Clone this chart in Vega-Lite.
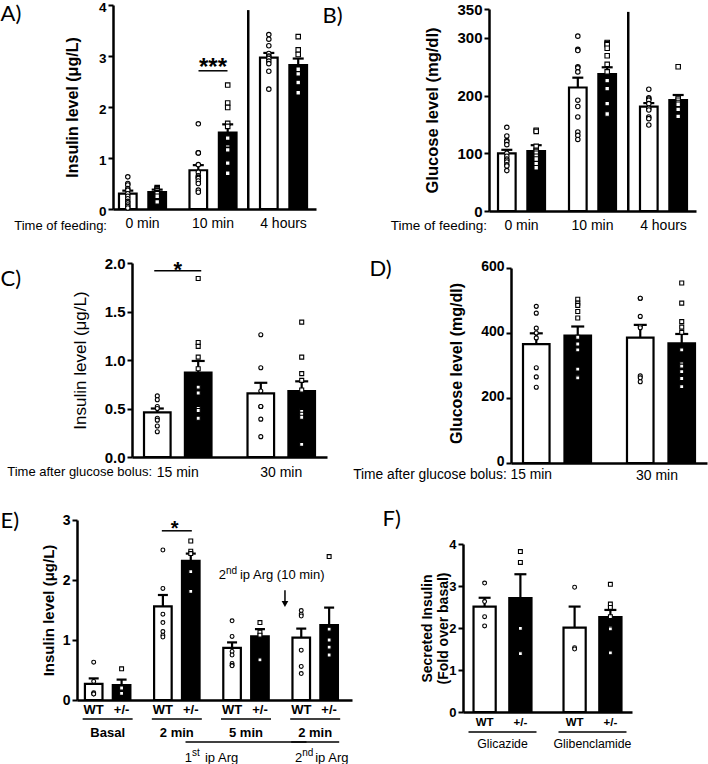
{
"$schema":"https://vega.github.io/schema/vega-lite/v6.json",
"width":708,"height":764,"autosize":{"type":"none"},"padding":0,"background":"white",
"config":{
 "view":{"stroke":null},
 "font":"Liberation Sans",
 "text":{"font":"Liberation Sans","color":"black"},
 "axis":{"domainColor":"black","domainWidth":2.5,"tickColor":"black","tickWidth":2,"tickSize":5,"labelColor":"black","titleColor":"black","labelFont":"Liberation Sans","titleFont":"Liberation Sans","labelFontWeight":"bold","titleFontWeight":"bold","grid":false,"labelPadding":2}
},
"datasets":{
 "one":[{}],
 "A_bars":[
  {"time":"0 min","genotype":"WT","mean":0.30,"upper":0.36},
  {"time":"0 min","genotype":"+/-","mean":0.33,"upper":0.38},
  {"time":"10 min","genotype":"WT","mean":0.76,"upper":0.86},
  {"time":"10 min","genotype":"+/-","mean":1.50,"upper":1.66},
  {"time":"4 hours","genotype":"WT","mean":2.97,"upper":3.06},
  {"time":"4 hours","genotype":"+/-","mean":2.82,"upper":2.95}],
 "A_pts":[
  {"time":"0 min","genotype":"WT","value":0.63},{"time":"0 min","genotype":"WT","value":0.50},{"time":"0 min","genotype":"WT","value":0.47},{"time":"0 min","genotype":"WT","value":0.40},{"time":"0 min","genotype":"WT","value":0.37},{"time":"0 min","genotype":"WT","value":0.30},{"time":"0 min","genotype":"WT","value":0.25},{"time":"0 min","genotype":"WT","value":0.20},{"time":"0 min","genotype":"WT","value":0.15},{"time":"0 min","genotype":"WT","value":0.12},{"time":"0 min","genotype":"WT","value":0.08},{"time":"0 min","genotype":"WT","value":0.05},{"time":"0 min","genotype":"WT","value":0.02},
  {"time":"0 min","genotype":"+/-","value":0.42},{"time":"0 min","genotype":"+/-","value":0.40},{"time":"0 min","genotype":"+/-","value":0.37},{"time":"0 min","genotype":"+/-","value":0.36},{"time":"0 min","genotype":"+/-","value":0.35},{"time":"0 min","genotype":"+/-","value":0.32},{"time":"0 min","genotype":"+/-","value":0.30},{"time":"0 min","genotype":"+/-","value":0.25},{"time":"0 min","genotype":"+/-","value":0.14},
  {"time":"10 min","genotype":"WT","value":1.67},{"time":"10 min","genotype":"WT","value":1.10},{"time":"10 min","genotype":"WT","value":1.10},{"time":"10 min","genotype":"WT","value":0.87},{"time":"10 min","genotype":"WT","value":0.72},{"time":"10 min","genotype":"WT","value":0.65},{"time":"10 min","genotype":"WT","value":0.62},{"time":"10 min","genotype":"WT","value":0.60},{"time":"10 min","genotype":"WT","value":0.55},{"time":"10 min","genotype":"WT","value":0.50},{"time":"10 min","genotype":"WT","value":0.37},{"time":"10 min","genotype":"WT","value":0.33},
  {"time":"10 min","genotype":"+/-","value":2.43},{"time":"10 min","genotype":"+/-","value":2.08},{"time":"10 min","genotype":"+/-","value":1.99},{"time":"10 min","genotype":"+/-","value":1.68},{"time":"10 min","genotype":"+/-","value":1.62},{"time":"10 min","genotype":"+/-","value":1.39},{"time":"10 min","genotype":"+/-","value":1.22},{"time":"10 min","genotype":"+/-","value":1.19},{"time":"10 min","genotype":"+/-","value":1.16},{"time":"10 min","genotype":"+/-","value":0.90},{"time":"10 min","genotype":"+/-","value":0.70},
  {"time":"4 hours","genotype":"WT","value":3.42},{"time":"4 hours","genotype":"WT","value":3.33},{"time":"4 hours","genotype":"WT","value":3.20},{"time":"4 hours","genotype":"WT","value":3.05},{"time":"4 hours","genotype":"WT","value":3.00},{"time":"4 hours","genotype":"WT","value":2.98},{"time":"4 hours","genotype":"WT","value":2.95},{"time":"4 hours","genotype":"WT","value":2.90},{"time":"4 hours","genotype":"WT","value":2.85},{"time":"4 hours","genotype":"WT","value":2.70},{"time":"4 hours","genotype":"WT","value":2.35},
  {"time":"4 hours","genotype":"+/-","value":3.38},{"time":"4 hours","genotype":"+/-","value":3.12},{"time":"4 hours","genotype":"+/-","value":3.03},{"time":"4 hours","genotype":"+/-","value":2.74},{"time":"4 hours","genotype":"+/-","value":2.65},{"time":"4 hours","genotype":"+/-","value":2.48},{"time":"4 hours","genotype":"+/-","value":2.28}],
 "B_bars":[
  {"time":"0 min","genotype":"WT","mean":100,"upper":106},
  {"time":"0 min","genotype":"+/-","mean":104,"upper":114},
  {"time":"10 min","genotype":"WT","mean":214,"upper":231},
  {"time":"10 min","genotype":"+/-","mean":237,"upper":249},
  {"time":"4 hours","genotype":"WT","mean":181,"upper":187},
  {"time":"4 hours","genotype":"+/-","mean":192,"upper":201}],
 "B_pts":[
  {"time":"0 min","genotype":"WT","value":145},{"time":"0 min","genotype":"WT","value":130},{"time":"0 min","genotype":"WT","value":122},{"time":"0 min","genotype":"WT","value":120},{"time":"0 min","genotype":"WT","value":115},{"time":"0 min","genotype":"WT","value":100},{"time":"0 min","genotype":"WT","value":95},{"time":"0 min","genotype":"WT","value":90},{"time":"0 min","genotype":"WT","value":88},{"time":"0 min","genotype":"WT","value":85},{"time":"0 min","genotype":"WT","value":80},{"time":"0 min","genotype":"WT","value":78},{"time":"0 min","genotype":"WT","value":70},
  {"time":"0 min","genotype":"+/-","value":140},{"time":"0 min","genotype":"+/-","value":138},{"time":"0 min","genotype":"+/-","value":112},{"time":"0 min","genotype":"+/-","value":105},{"time":"0 min","genotype":"+/-","value":103},{"time":"0 min","genotype":"+/-","value":100},{"time":"0 min","genotype":"+/-","value":95},{"time":"0 min","genotype":"+/-","value":90},{"time":"0 min","genotype":"+/-","value":82},{"time":"0 min","genotype":"+/-","value":75},
  {"time":"10 min","genotype":"WT","value":303},{"time":"10 min","genotype":"WT","value":280},{"time":"10 min","genotype":"WT","value":278},{"time":"10 min","genotype":"WT","value":250},{"time":"10 min","genotype":"WT","value":248},{"time":"10 min","genotype":"WT","value":241},{"time":"10 min","genotype":"WT","value":192},{"time":"10 min","genotype":"WT","value":181},{"time":"10 min","genotype":"WT","value":163},{"time":"10 min","genotype":"WT","value":137},{"time":"10 min","genotype":"WT","value":131},{"time":"10 min","genotype":"WT","value":124},
  {"time":"10 min","genotype":"+/-","value":292},{"time":"10 min","genotype":"+/-","value":290},{"time":"10 min","genotype":"+/-","value":288},{"time":"10 min","genotype":"+/-","value":282},{"time":"10 min","genotype":"+/-","value":269},{"time":"10 min","genotype":"+/-","value":254},{"time":"10 min","genotype":"+/-","value":241},{"time":"10 min","genotype":"+/-","value":226},{"time":"10 min","genotype":"+/-","value":212},{"time":"10 min","genotype":"+/-","value":186},{"time":"10 min","genotype":"+/-","value":168},{"time":"10 min","genotype":"+/-","value":168},
  {"time":"4 hours","genotype":"WT","value":211},{"time":"4 hours","genotype":"WT","value":196},{"time":"4 hours","genotype":"WT","value":194},{"time":"4 hours","genotype":"WT","value":192},{"time":"4 hours","genotype":"WT","value":186},{"time":"4 hours","genotype":"WT","value":178},{"time":"4 hours","genotype":"WT","value":175},{"time":"4 hours","genotype":"WT","value":163},{"time":"4 hours","genotype":"WT","value":160},{"time":"4 hours","genotype":"WT","value":149},
  {"time":"4 hours","genotype":"+/-","value":250},{"time":"4 hours","genotype":"+/-","value":195},{"time":"4 hours","genotype":"+/-","value":192},{"time":"4 hours","genotype":"+/-","value":188},{"time":"4 hours","genotype":"+/-","value":185},{"time":"4 hours","genotype":"+/-","value":176},{"time":"4 hours","genotype":"+/-","value":164}],
 "C_bars":[
  {"time":"15 min","genotype":"WT","mean":0.46,"upper":0.50},
  {"time":"15 min","genotype":"+/-","mean":0.87,"upper":0.99},
  {"time":"30 min","genotype":"WT","mean":0.655,"upper":0.765},
  {"time":"30 min","genotype":"+/-","mean":0.68,"upper":0.78}],
 "C_pts":[
  {"time":"15 min","genotype":"WT","value":0.63},{"time":"15 min","genotype":"WT","value":0.59},{"time":"15 min","genotype":"WT","value":0.52},{"time":"15 min","genotype":"WT","value":0.50},{"time":"15 min","genotype":"WT","value":0.40},{"time":"15 min","genotype":"WT","value":0.38},{"time":"15 min","genotype":"WT","value":0.32},{"time":"15 min","genotype":"WT","value":0.26},
  {"time":"15 min","genotype":"+/-","value":1.84},{"time":"15 min","genotype":"+/-","value":1.18},{"time":"15 min","genotype":"+/-","value":1.14},{"time":"15 min","genotype":"+/-","value":1.03},{"time":"15 min","genotype":"+/-","value":0.91},{"time":"15 min","genotype":"+/-","value":0.72},{"time":"15 min","genotype":"+/-","value":0.66},{"time":"15 min","genotype":"+/-","value":0.50},{"time":"15 min","genotype":"+/-","value":0.48},{"time":"15 min","genotype":"+/-","value":0.40},
  {"time":"30 min","genotype":"WT","value":1.26},{"time":"30 min","genotype":"WT","value":0.92},{"time":"30 min","genotype":"WT","value":0.68},{"time":"30 min","genotype":"WT","value":0.52},{"time":"30 min","genotype":"WT","value":0.52},{"time":"30 min","genotype":"WT","value":0.39},{"time":"30 min","genotype":"WT","value":0.21},
  {"time":"30 min","genotype":"+/-","value":1.39},{"time":"30 min","genotype":"+/-","value":1.03},{"time":"30 min","genotype":"+/-","value":0.86},{"time":"30 min","genotype":"+/-","value":0.79},{"time":"30 min","genotype":"+/-","value":0.69},{"time":"30 min","genotype":"+/-","value":0.48},{"time":"30 min","genotype":"+/-","value":0.47},{"time":"30 min","genotype":"+/-","value":0.44},{"time":"30 min","genotype":"+/-","value":0.41},{"time":"30 min","genotype":"+/-","value":0.13}],
 "D_bars":[
  {"time":"15 min","genotype":"WT","mean":366,"upper":399},
  {"time":"15 min","genotype":"+/-","mean":392,"upper":420},
  {"time":"30 min","genotype":"WT","mean":386,"upper":425},
  {"time":"30 min","genotype":"+/-","mean":368,"upper":397}],
 "D_pts":[
  {"time":"15 min","genotype":"WT","value":482},{"time":"15 min","genotype":"WT","value":461},{"time":"15 min","genotype":"WT","value":415},{"time":"15 min","genotype":"WT","value":400},{"time":"15 min","genotype":"WT","value":385},{"time":"15 min","genotype":"WT","value":293},{"time":"15 min","genotype":"WT","value":265},{"time":"15 min","genotype":"WT","value":233},
  {"time":"15 min","genotype":"+/-","value":504},{"time":"15 min","genotype":"+/-","value":492},{"time":"15 min","genotype":"+/-","value":485},{"time":"15 min","genotype":"+/-","value":466},{"time":"15 min","genotype":"+/-","value":446},{"time":"15 min","genotype":"+/-","value":387},{"time":"15 min","genotype":"+/-","value":366},{"time":"15 min","genotype":"+/-","value":348},{"time":"15 min","genotype":"+/-","value":289},{"time":"15 min","genotype":"+/-","value":265},{"time":"15 min","genotype":"+/-","value":262},
  {"time":"30 min","genotype":"WT","value":507},{"time":"30 min","genotype":"WT","value":507},{"time":"30 min","genotype":"WT","value":451},{"time":"30 min","genotype":"WT","value":420},{"time":"30 min","genotype":"WT","value":416},{"time":"30 min","genotype":"WT","value":268},{"time":"30 min","genotype":"WT","value":262},{"time":"30 min","genotype":"WT","value":250},
  {"time":"30 min","genotype":"+/-","value":554},{"time":"30 min","genotype":"+/-","value":492},{"time":"30 min","genotype":"+/-","value":435},{"time":"30 min","genotype":"+/-","value":418},{"time":"30 min","genotype":"+/-","value":402},{"time":"30 min","genotype":"+/-","value":348},{"time":"30 min","genotype":"+/-","value":305},{"time":"30 min","genotype":"+/-","value":298},{"time":"30 min","genotype":"+/-","value":281},{"time":"30 min","genotype":"+/-","value":260},{"time":"30 min","genotype":"+/-","value":235}],
 "E_bars":[
  {"group":"Basal","genotype":"WT","mean":0.27,"upper":0.36},
  {"group":"Basal","genotype":"+/-","mean":0.25,"upper":0.34},
  {"group":"1st 2 min","genotype":"WT","mean":1.56,"upper":1.75},
  {"group":"1st 2 min","genotype":"+/-","mean":2.32,"upper":2.44},
  {"group":"1st 5 min","genotype":"WT","mean":0.87,"upper":0.96},
  {"group":"1st 5 min","genotype":"+/-","mean":1.06,"upper":1.18},
  {"group":"2nd 2 min","genotype":"WT","mean":1.04,"upper":1.19},
  {"group":"2nd 2 min","genotype":"+/-","mean":1.25,"upper":1.54}],
 "E_groups":[{"group":"Basal"},{"group":"1st 2 min"},{"group":"1st 5 min"},{"group":"2nd 2 min"}],
 "E_pts":[
  {"group":"Basal","genotype":"WT","value":0.63},{"group":"Basal","genotype":"WT","value":0.31},{"group":"Basal","genotype":"WT","value":0.12},{"group":"Basal","genotype":"WT","value":0.10},{"group":"Basal","genotype":"WT","value":0.10},
  {"group":"Basal","genotype":"+/-","value":0.52},{"group":"Basal","genotype":"+/-","value":0.20},{"group":"Basal","genotype":"+/-","value":0.12},{"group":"Basal","genotype":"+/-","value":0.11},
  {"group":"1st 2 min","genotype":"WT","value":2.50},{"group":"1st 2 min","genotype":"WT","value":1.86},{"group":"1st 2 min","genotype":"WT","value":1.43},{"group":"1st 2 min","genotype":"WT","value":1.29},{"group":"1st 2 min","genotype":"WT","value":1.14},{"group":"1st 2 min","genotype":"WT","value":1.08},{"group":"1st 2 min","genotype":"WT","value":1.05},
  {"group":"1st 2 min","genotype":"+/-","value":2.65},{"group":"1st 2 min","genotype":"+/-","value":2.48},{"group":"1st 2 min","genotype":"+/-","value":2.44},{"group":"1st 2 min","genotype":"+/-","value":2.14},{"group":"1st 2 min","genotype":"+/-","value":1.81},
  {"group":"1st 5 min","genotype":"WT","value":1.32},{"group":"1st 5 min","genotype":"WT","value":1.06},{"group":"1st 5 min","genotype":"WT","value":0.81},{"group":"1st 5 min","genotype":"WT","value":0.75},{"group":"1st 5 min","genotype":"WT","value":0.61},{"group":"1st 5 min","genotype":"WT","value":0.58},{"group":"1st 5 min","genotype":"WT","value":0.57},
  {"group":"1st 5 min","genotype":"+/-","value":1.29},{"group":"1st 5 min","genotype":"+/-","value":1.13},{"group":"1st 5 min","genotype":"+/-","value":1.08},{"group":"1st 5 min","genotype":"+/-","value":0.67},
  {"group":"2nd 2 min","genotype":"WT","value":1.49},{"group":"2nd 2 min","genotype":"WT","value":1.43},{"group":"2nd 2 min","genotype":"WT","value":1.40},{"group":"2nd 2 min","genotype":"WT","value":0.83},{"group":"2nd 2 min","genotype":"WT","value":0.56},{"group":"2nd 2 min","genotype":"WT","value":0.44},
  {"group":"2nd 2 min","genotype":"+/-","value":2.39},{"group":"2nd 2 min","genotype":"+/-","value":1.18},{"group":"2nd 2 min","genotype":"+/-","value":1.00},{"group":"2nd 2 min","genotype":"+/-","value":0.88},{"group":"2nd 2 min","genotype":"+/-","value":0.75}],
 "F_bars":[
  {"group":"Glicazide","genotype":"WT","mean":2.51,"upper":2.72},
  {"group":"Glicazide","genotype":"+/-","mean":2.71,"upper":3.28},
  {"group":"Glibenclamide","genotype":"WT","mean":2.01,"upper":2.51},
  {"group":"Glibenclamide","genotype":"+/-","mean":2.26,"upper":2.43}],
 "F_groups":[{"group":"Glicazide"},{"group":"Glibenclamide"}],
 "F_pts":[
  {"group":"Glicazide","genotype":"WT","value":3.07},{"group":"Glicazide","genotype":"WT","value":2.63},{"group":"Glicazide","genotype":"WT","value":2.27},{"group":"Glicazide","genotype":"WT","value":2.05},
  {"group":"Glicazide","genotype":"+/-","value":3.82},{"group":"Glicazide","genotype":"+/-","value":3.56},{"group":"Glicazide","genotype":"+/-","value":1.99},{"group":"Glicazide","genotype":"+/-","value":1.39},
  {"group":"Glibenclamide","genotype":"WT","value":2.97},{"group":"Glibenclamide","genotype":"WT","value":1.53},{"group":"Glibenclamide","genotype":"WT","value":1.50},
  {"group":"Glibenclamide","genotype":"+/-","value":3.04},{"group":"Glibenclamide","genotype":"+/-","value":2.57},{"group":"Glibenclamide","genotype":"+/-","value":2.49},{"group":"Glibenclamide","genotype":"+/-","value":2.27},{"group":"Glibenclamide","genotype":"+/-","value":2.01},{"group":"Glibenclamide","genotype":"+/-","value":1.98},{"group":"Glibenclamide","genotype":"+/-","value":1.41}]
},
"resolve":{"scale":{"x":"independent","y":"independent","xOffset":"independent"},"axis":{"x":"independent","y":"independent"}},
"layer":[
 {"layer":[
  {"data":{"name":"A_bars"},"mark":{"type":"bar","stroke":"black","strokeWidth":2.2},
   "encoding":{
    "x":{"field":"time","type":"nominal","scale":{"type":"band","domain":["0 min","10 min","4 hours"],"range":[113,316],"paddingInner":0.333,"paddingOuter":0.106,"align":0.4},
     "axis":{"orient":"bottom","offset":-555,"ticks":false,"tickSize":0,"labelPadding":14,"labelBaseline":"middle","labelAngle":0,"labelFontSize":14,"labelFontWeight":"normal","title":"A)","titleX":0,"titleY":-189,"titleAlign":"left","titleBaseline":"alphabetic","titleAngle":0,"titleFont":"Lato","titleFontSize":22,"titleFontWeight":"normal"}},
    "xOffset":{"field":"genotype","type":"nominal","scale":{"type":"band","domain":["WT","+/-"],"paddingInner":0.4,"paddingOuter":0}},
    "y":{"field":"mean","type":"quantitative","scale":{"domain":[0,4],"range":[209,5],"nice":false},
     "axis":{"orient":"left","offset":-113,"values":[0,1,2,3,4],"format":"d","labelFontSize":13.5,"labelOffset":2,"title":"Insulin level (μg/L)","titleX":-41,"titleY":107,"titleAngle":-90,"titleAlign":"center","titleBaseline":"middle","titleFontSize":16}},
    "fill":{"field":"genotype","type":"nominal","scale":{"domain":["WT","+/-"],"range":["white","black"]},"legend":null}}},
  {"data":{"name":"A_bars"},"mark":{"type":"rule","color":"black","strokeWidth":2.2},
   "encoding":{"x":{"field":"time","type":"nominal"},"xOffset":{"field":"genotype","type":"nominal"},"y":{"field":"mean","type":"quantitative"},"y2":{"field":"upper"}}},
  {"data":{"name":"A_bars"},"mark":{"type":"tick","color":"black","thickness":2.2,"size":11,"opacity":1},
   "encoding":{"x":{"field":"time","type":"nominal"},"xOffset":{"field":"genotype","type":"nominal"},"y":{"field":"upper","type":"quantitative"}}},
  {"data":{"name":"A_pts"},"mark":{"type":"point","filled":true,"fill":"white","stroke":"black","strokeWidth":1.1,"size":20,"opacity":1},
   "encoding":{"x":{"field":"time","type":"nominal"},"xOffset":{"field":"genotype","type":"nominal"},"y":{"field":"value","type":"quantitative"},
    "shape":{"field":"genotype","type":"nominal","scale":{"domain":["WT","+/-"],"range":["circle","square"]},"legend":null}}},
  {"data":{"name":"one"},"mark":{"type":"rule","color":"black","strokeWidth":2.5},
   "encoding":{"x":{"datum":"4 hours","type":"nominal","bandPosition":-0.25},"y":{"datum":0,"type":"quantitative"},"y2":{"datum":3.9}}},
  {"data":{"name":"one"},"mark":{"type":"tick","color":"black","thickness":1.5,"size":29,"opacity":1},
   "encoding":{"x":{"datum":"10 min","type":"nominal"},"y":{"datum":2.71,"type":"quantitative"}}},
  {"data":{"name":"one"},"mark":{"type":"text","text":"***","fontSize":24,"fontWeight":"bold","baseline":"middle","dy":6},
   "encoding":{"x":{"datum":"10 min","type":"nominal","bandPosition":0.5},"y":{"datum":2.89,"type":"quantitative"}}},
  {"data":{"name":"one"},"mark":{"type":"text","text":"Time of feeding:","fontSize":13,"align":"right","baseline":"middle","dx":-12,"dy":16.5},
   "encoding":{"x":{"datum":"0 min","type":"nominal","bandPosition":0},"y":{"datum":0,"type":"quantitative"}}}
 ]},
 {"layer":[
  {"data":{"name":"B_bars"},"mark":{"type":"bar","stroke":"black","strokeWidth":2.2},
   "encoding":{
    "x":{"field":"time","type":"nominal","scale":{"type":"band","domain":["0 min","10 min","4 hours"],"range":[489,696],"paddingInner":0.338,"paddingOuter":0.127,"align":0.5},
     "axis":{"orient":"bottom","offset":-553,"ticks":false,"tickSize":0,"labelPadding":14,"labelBaseline":"middle","labelAngle":0,"labelFontSize":14,"labelFontWeight":"normal","title":"B)","titleX":322,"titleY":-189,"titleAlign":"left","titleBaseline":"alphabetic","titleAngle":0,"titleFont":"Lato","titleFontSize":22,"titleFontWeight":"normal"}},
    "xOffset":{"field":"genotype","type":"nominal","scale":{"type":"band","domain":["WT","+/-"],"paddingInner":0.4,"paddingOuter":0}},
    "y":{"field":"mean","type":"quantitative","scale":{"domain":[0,350],"range":[211,9],"nice":false},
     "axis":{"orient":"left","offset":-489,"values":[0,100,200,300,350],"format":"d","labelFontSize":15,"title":"Glucose level (mg/dl)","titleX":-57,"titleY":110,"titleAngle":-90,"titleAlign":"center","titleBaseline":"middle","titleFontSize":16.5}},
    "fill":{"field":"genotype","type":"nominal","scale":{"domain":["WT","+/-"],"range":["white","black"]},"legend":null}}},
  {"data":{"name":"B_bars"},"mark":{"type":"rule","color":"black","strokeWidth":2.2},
   "encoding":{"x":{"field":"time","type":"nominal"},"xOffset":{"field":"genotype","type":"nominal"},"y":{"field":"mean","type":"quantitative"},"y2":{"field":"upper"}}},
  {"data":{"name":"B_bars"},"mark":{"type":"tick","color":"black","thickness":2.2,"size":11,"opacity":1},
   "encoding":{"x":{"field":"time","type":"nominal"},"xOffset":{"field":"genotype","type":"nominal"},"y":{"field":"upper","type":"quantitative"}}},
  {"data":{"name":"B_pts"},"mark":{"type":"point","filled":true,"fill":"white","stroke":"black","strokeWidth":1.1,"size":20,"opacity":1},
   "encoding":{"x":{"field":"time","type":"nominal"},"xOffset":{"field":"genotype","type":"nominal"},"y":{"field":"value","type":"quantitative"},
    "shape":{"field":"genotype","type":"nominal","scale":{"domain":["WT","+/-"],"range":["circle","square"]},"legend":null}}},
  {"data":{"name":"one"},"mark":{"type":"rule","color":"black","strokeWidth":2.5},
   "encoding":{"x":{"datum":"4 hours","type":"nominal","bandPosition":-0.25},"y":{"datum":0,"type":"quantitative"},"y2":{"datum":345}}},
  {"data":{"name":"one"},"mark":{"type":"text","text":"Time of feeding:","fontSize":13.5,"align":"right","baseline":"middle","dx":-11,"dy":15},
   "encoding":{"x":{"datum":"0 min","type":"nominal","bandPosition":0},"y":{"datum":0,"type":"quantitative"}}}
 ]},
 {"layer":[
  {"data":{"name":"C_bars"},"mark":{"type":"bar","stroke":"black","strokeWidth":2.2},
   "encoding":{
    "x":{"field":"time","type":"nominal","scale":{"type":"band","domain":["15 min","30 min"],"range":[132,327],"paddingInner":0.348,"paddingOuter":0.116,"align":0.5},
     "axis":{"orient":"bottom","offset":-307,"ticks":false,"tickSize":0,"labelPadding":15,"labelBaseline":"middle","labelAngle":0,"labelFontSize":14,"labelFontWeight":"normal","title":"C)","titleX":0,"titleY":-172,"titleAlign":"left","titleBaseline":"alphabetic","titleAngle":0,"titleFont":"Lato","titleFontSize":22,"titleFontWeight":"normal"}},
    "xOffset":{"field":"genotype","type":"nominal","scale":{"type":"band","domain":["WT","+/-"],"paddingInner":0.35,"paddingOuter":0}},
    "y":{"field":"mean","type":"quantitative","scale":{"domain":[0,2],"range":[457,263],"nice":false},
     "axis":{"orient":"left","offset":-132,"values":[0,0.5,1,1.5,2],"format":".1f","labelFontSize":15,"title":"Insulin level (μg/L)","titleX":-52,"titleY":360,"titleAngle":-90,"titleAlign":"center","titleBaseline":"middle","titleFontSize":17,"titleFontWeight":"normal"}},
    "fill":{"field":"genotype","type":"nominal","scale":{"domain":["WT","+/-"],"range":["white","black"]},"legend":null}}},
  {"data":{"name":"C_bars"},"mark":{"type":"rule","color":"black","strokeWidth":2.2},
   "encoding":{"x":{"field":"time","type":"nominal"},"xOffset":{"field":"genotype","type":"nominal"},"y":{"field":"mean","type":"quantitative"},"y2":{"field":"upper"}}},
  {"data":{"name":"C_bars"},"mark":{"type":"tick","color":"black","thickness":2.2,"size":13,"opacity":1},
   "encoding":{"x":{"field":"time","type":"nominal"},"xOffset":{"field":"genotype","type":"nominal"},"y":{"field":"upper","type":"quantitative"}}},
  {"data":{"name":"C_pts"},"mark":{"type":"point","filled":true,"fill":"white","stroke":"black","strokeWidth":1.1,"size":16,"opacity":1},
   "encoding":{"x":{"field":"time","type":"nominal"},"xOffset":{"field":"genotype","type":"nominal"},"y":{"field":"value","type":"quantitative"},
    "shape":{"field":"genotype","type":"nominal","scale":{"domain":["WT","+/-"],"range":["circle","square"]},"legend":null}}},
  {"data":{"name":"one"},"mark":{"type":"tick","color":"black","thickness":1.5,"size":47,"opacity":1},
   "encoding":{"x":{"datum":"15 min","type":"nominal"},"y":{"datum":1.92,"type":"quantitative"}}},
  {"data":{"name":"one"},"mark":{"type":"text","text":"*","fontSize":22,"fontWeight":"bold","baseline":"middle","dy":6},
   "encoding":{"x":{"datum":"15 min","type":"nominal","bandPosition":0.5},"y":{"datum":1.99,"type":"quantitative"}}},
  {"data":{"name":"one"},"mark":{"type":"text","text":"Time after glucose bolus:","fontSize":13,"align":"right","baseline":"middle","dx":8,"dy":15},
   "encoding":{"x":{"datum":"15 min","type":"nominal","bandPosition":0},"y":{"datum":0,"type":"quantitative"}}}
 ]},
 {"layer":[
  {"data":{"name":"D_bars"},"mark":{"type":"bar","stroke":"black","strokeWidth":2.2},
   "encoding":{
    "x":{"field":"time","type":"nominal","scale":{"type":"band","domain":["15 min","30 min"],"range":[511,707],"paddingInner":0.346,"paddingOuter":0.1155,"align":0.5},
     "axis":{"orient":"bottom","offset":-301,"ticks":false,"tickSize":0,"labelPadding":12,"labelBaseline":"middle","labelAngle":0,"labelFontSize":14,"labelFontWeight":"normal","labelOffset":-4,"labelExpr":"datum.label == '15 min' ? '' : datum.label","title":"D)","titleX":369,"titleY":-188,"titleAlign":"left","titleBaseline":"alphabetic","titleAngle":0,"titleFont":"Lato","titleFontSize":22,"titleFontWeight":"normal"}},
    "xOffset":{"field":"genotype","type":"nominal","scale":{"type":"band","domain":["WT","+/-"],"paddingInner":0.36,"paddingOuter":0}},
    "y":{"field":"mean","type":"quantitative","scale":{"domain":[0,600],"range":[463,268],"nice":false},
     "axis":{"orient":"left","offset":-511,"values":[0,200,400,600],"format":"d","labelFontSize":14,"labelOffset":-2,"title":"Glucose level (mg/dl)","titleX":-55,"titleY":363,"titleAngle":-90,"titleAlign":"center","titleBaseline":"middle","titleFontSize":16}},
    "fill":{"field":"genotype","type":"nominal","scale":{"domain":["WT","+/-"],"range":["white","black"]},"legend":null}}},
  {"data":{"name":"D_bars"},"mark":{"type":"rule","color":"black","strokeWidth":2.2},
   "encoding":{"x":{"field":"time","type":"nominal"},"xOffset":{"field":"genotype","type":"nominal"},"y":{"field":"mean","type":"quantitative"},"y2":{"field":"upper"}}},
  {"data":{"name":"D_bars"},"mark":{"type":"tick","color":"black","thickness":2.2,"size":13,"opacity":1},
   "encoding":{"x":{"field":"time","type":"nominal"},"xOffset":{"field":"genotype","type":"nominal"},"y":{"field":"upper","type":"quantitative"}}},
  {"data":{"name":"D_pts"},"mark":{"type":"point","filled":true,"fill":"white","stroke":"black","strokeWidth":1.1,"size":16,"opacity":1},
   "encoding":{"x":{"field":"time","type":"nominal"},"xOffset":{"field":"genotype","type":"nominal"},"y":{"field":"value","type":"quantitative"},
    "shape":{"field":"genotype","type":"nominal","scale":{"domain":["WT","+/-"],"range":["circle","square"]},"legend":null}}},
  {"data":{"name":"one"},"mark":{"type":"text","text":"Time after glucose bolus: 15 min","fontSize":13.8,"align":"right","baseline":"middle","dx":29,"dy":12},
   "encoding":{"x":{"datum":"15 min","type":"nominal","bandPosition":0},"y":{"datum":0,"type":"quantitative"}}}
 ]},
 {"layer":[
  {"data":{"name":"E_bars"},"mark":{"type":"bar","stroke":"black","strokeWidth":2.2},
   "encoding":{
    "x":{"field":"group","type":"nominal","scale":{"type":"band","domain":["Basal","1st 2 min","1st 5 min","2nd 2 min"],"range":[77,352],"paddingInner":0.343,"paddingOuter":0.159,"align":0.36},
     "axis":{"orient":"bottom","offset":-64,"ticks":false,"tickSize":0,"labelPadding":32,"labelBaseline":"middle","labelAngle":0,"labelFontSize":13,"labelFontWeight":"bold","labelExpr":"datum.label == 'Basal' ? 'Basal' : substring(datum.label, 4)","title":"E)","titleX":0,"titleY":-173,"titleAlign":"left","titleBaseline":"alphabetic","titleAngle":0,"titleFont":"Lato","titleFontSize":22,"titleFontWeight":"normal"}},
    "xOffset":{"field":"genotype","type":"nominal","scale":{"type":"band","domain":["WT","+/-"],"paddingInner":0.37,"paddingOuter":0}},
    "y":{"field":"mean","type":"quantitative","scale":{"domain":[0,3],"range":[700,520],"nice":false},
     "axis":{"orient":"left","offset":-77,"values":[0,1,2,3],"format":"d","labelFontSize":14,"title":"Insulin level (μg/L)","titleX":-29,"titleY":610,"titleAngle":-90,"titleAlign":"center","titleBaseline":"middle","titleFontSize":15}},
    "fill":{"field":"genotype","type":"nominal","scale":{"domain":["WT","+/-"],"range":["white","black"]},"legend":null}}},
  {"data":{"name":"E_bars"},"mark":{"type":"rule","color":"black","strokeWidth":2.2},
   "encoding":{"x":{"field":"group","type":"nominal"},"xOffset":{"field":"genotype","type":"nominal"},"y":{"field":"mean","type":"quantitative"},"y2":{"field":"upper"}}},
  {"data":{"name":"E_bars"},"mark":{"type":"tick","color":"black","thickness":2.2,"size":10,"opacity":1},
   "encoding":{"x":{"field":"group","type":"nominal"},"xOffset":{"field":"genotype","type":"nominal"},"y":{"field":"upper","type":"quantitative"}}},
  {"data":{"name":"E_pts"},"mark":{"type":"point","filled":true,"fill":"white","stroke":"black","strokeWidth":1.1,"size":15,"opacity":1},
   "encoding":{"x":{"field":"group","type":"nominal"},"xOffset":{"field":"genotype","type":"nominal"},"y":{"field":"value","type":"quantitative"},
    "shape":{"field":"genotype","type":"nominal","scale":{"domain":["WT","+/-"],"range":["circle","square"]},"legend":null}}},
  {"data":{"name":"E_bars"},"mark":{"type":"text","fontSize":13,"fontWeight":"bold","baseline":"middle","dy":10},
   "encoding":{"x":{"field":"group","type":"nominal"},"xOffset":{"field":"genotype","type":"nominal"},"y":{"datum":0,"type":"quantitative"},"text":{"field":"genotype"}}},
  {"data":{"name":"E_groups"},"mark":{"type":"tick","color":"black","thickness":1.3,"size":50,"yOffset":19,"opacity":1},
   "encoding":{"x":{"field":"group","type":"nominal"},"y":{"datum":0,"type":"quantitative"}}},
  {"data":{"name":"one"},"mark":{"type":"tick","color":"black","thickness":1.4,"size":121,"yOffset":42,"opacity":1},
   "encoding":{"x":{"datum":"1st 5 min","type":"nominal","bandPosition":-0.216},"y":{"datum":0,"type":"quantitative"}}},
  {"data":{"name":"one"},"mark":{"type":"tick","color":"black","thickness":1.4,"size":48,"yOffset":42,"opacity":1},
   "encoding":{"x":{"datum":"2nd 2 min","type":"nominal","bandPosition":0.5},"y":{"datum":0,"type":"quantitative"}}},
  {"data":{"name":"one"},"mark":{"type":"text","text":"1","fontSize":13,"align":"right","baseline":"alphabetic","dx":-21.5,"dy":62},
   "encoding":{"x":{"datum":"1st 5 min","type":"nominal","bandPosition":-0.216},"y":{"datum":0,"type":"quantitative"}}},
  {"data":{"name":"one"},"mark":{"type":"text","text":"st","fontSize":10,"align":"left","baseline":"alphabetic","dx":-21.5,"dy":56},
   "encoding":{"x":{"datum":"1st 5 min","type":"nominal","bandPosition":-0.216},"y":{"datum":0,"type":"quantitative"}}},
  {"data":{"name":"one"},"mark":{"type":"text","text":"ip Arg","fontSize":13,"align":"left","baseline":"alphabetic","dx":-8.5,"dy":62},
   "encoding":{"x":{"datum":"1st 5 min","type":"nominal","bandPosition":-0.216},"y":{"datum":0,"type":"quantitative"}}},
  {"data":{"name":"one"},"mark":{"type":"text","text":"2","fontSize":13,"align":"right","baseline":"alphabetic","dx":-13,"dy":62},
   "encoding":{"x":{"datum":"2nd 2 min","type":"nominal","bandPosition":0.5},"y":{"datum":0,"type":"quantitative"}}},
  {"data":{"name":"one"},"mark":{"type":"text","text":"nd","fontSize":10,"align":"left","baseline":"alphabetic","dx":-13,"dy":56},
   "encoding":{"x":{"datum":"2nd 2 min","type":"nominal","bandPosition":0.5},"y":{"datum":0,"type":"quantitative"}}},
  {"data":{"name":"one"},"mark":{"type":"text","text":"ip Arg","fontSize":13,"align":"left","baseline":"alphabetic","dx":0,"dy":62},
   "encoding":{"x":{"datum":"2nd 2 min","type":"nominal","bandPosition":0.5},"y":{"datum":0,"type":"quantitative"}}},
  {"data":{"name":"one"},"mark":{"type":"tick","color":"black","thickness":1.5,"size":30,"opacity":1},
   "encoding":{"x":{"datum":"1st 2 min","type":"nominal"},"y":{"datum":2.82,"type":"quantitative"}}},
  {"data":{"name":"one"},"mark":{"type":"text","text":"*","fontSize":20,"fontWeight":"bold","baseline":"middle","dy":5},
   "encoding":{"x":{"datum":"1st 2 min","type":"nominal","bandPosition":0.45},"y":{"datum":2.94,"type":"quantitative"}}},
  {"data":{"name":"one"},"mark":{"type":"text","text":"2","fontSize":13,"align":"right","baseline":"alphabetic","dx":-66.5},
   "encoding":{"x":{"datum":"2nd 2 min","type":"nominal","bandPosition":0},"y":{"datum":2.02,"type":"quantitative"}}},
  {"data":{"name":"one"},"mark":{"type":"text","text":"nd","fontSize":10,"align":"left","baseline":"alphabetic","dx":-66.5,"dy":-5},
   "encoding":{"x":{"datum":"2nd 2 min","type":"nominal","bandPosition":0},"y":{"datum":2.02,"type":"quantitative"}}},
  {"data":{"name":"one"},"mark":{"type":"text","text":"ip Arg (10 min)","fontSize":13,"align":"left","baseline":"alphabetic","dx":-52.5},
   "encoding":{"x":{"datum":"2nd 2 min","type":"nominal","bandPosition":0},"y":{"datum":2.02,"type":"quantitative"}}},
  {"data":{"name":"one"},"mark":{"type":"rule","color":"black","strokeWidth":1.5},
   "encoding":{"x":{"datum":"2nd 2 min","type":"nominal","bandPosition":-0.165},"y":{"datum":1.83,"type":"quantitative"},"y2":{"datum":1.64}}},
  {"data":{"name":"one"},"mark":{"type":"point","shape":"triangle-down","filled":true,"color":"black","size":45,"opacity":1},
   "encoding":{"x":{"datum":"2nd 2 min","type":"nominal","bandPosition":-0.165},"y":{"datum":1.60,"type":"quantitative"}}}
 ]},
 {"layer":[
  {"data":{"name":"F_bars"},"mark":{"type":"bar","stroke":"black","strokeWidth":2.2},
   "encoding":{
    "x":{"field":"group","type":"nominal","scale":{"type":"band","domain":["Glicazide","Glibenclamide"],"range":[463,632],"paddingInner":0.356,"paddingOuter":0.117,"align":0.5},
     "axis":{"orient":"bottom","offset":-52,"ticks":false,"tickSize":0,"labelPadding":31,"labelBaseline":"middle","labelAngle":0,"labelFontSize":12.3,"labelFontWeight":"normal","title":"F)","titleX":382,"titleY":-187,"titleAlign":"left","titleBaseline":"alphabetic","titleAngle":0,"titleFont":"Lato","titleFontSize":22,"titleFontWeight":"normal"}},
    "xOffset":{"field":"genotype","type":"nominal","scale":{"type":"band","domain":["WT","+/-"],"paddingInner":0.38,"paddingOuter":0}},
    "y":{"field":"mean","type":"quantitative","scale":{"domain":[0,4],"range":[712,544],"nice":false},
     "axis":{"orient":"left","offset":-463,"values":[0,1,2,3,4],"format":"d","labelFontSize":13,"title":["Secreted Insulin","(Fold over basal)"],"titleX":-36,"titleY":628,"titleAngle":-90,"titleAlign":"center","titleBaseline":"middle","titleFontSize":14,"titleLineHeight":16}},
    "fill":{"field":"genotype","type":"nominal","scale":{"domain":["WT","+/-"],"range":["white","black"]},"legend":null}}},
  {"data":{"name":"F_bars"},"mark":{"type":"rule","color":"black","strokeWidth":2.2},
   "encoding":{"x":{"field":"group","type":"nominal"},"xOffset":{"field":"genotype","type":"nominal"},"y":{"field":"mean","type":"quantitative"},"y2":{"field":"upper"}}},
  {"data":{"name":"F_bars"},"mark":{"type":"tick","color":"black","thickness":2.2,"size":12,"opacity":1},
   "encoding":{"x":{"field":"group","type":"nominal"},"xOffset":{"field":"genotype","type":"nominal"},"y":{"field":"upper","type":"quantitative"}}},
  {"data":{"name":"F_pts"},"mark":{"type":"point","filled":true,"fill":"white","stroke":"black","strokeWidth":1.1,"size":15,"opacity":1},
   "encoding":{"x":{"field":"group","type":"nominal"},"xOffset":{"field":"genotype","type":"nominal"},"y":{"field":"value","type":"quantitative"},
    "shape":{"field":"genotype","type":"nominal","scale":{"domain":["WT","+/-"],"range":["circle","square"]},"legend":null}}},
  {"data":{"name":"F_bars"},"mark":{"type":"text","fontSize":11.5,"fontWeight":"bold","baseline":"middle","dy":11},
   "encoding":{"x":{"field":"group","type":"nominal"},"xOffset":{"field":"genotype","type":"nominal"},"y":{"datum":0,"type":"quantitative"},"text":{"field":"genotype"}}},
  {"data":{"name":"F_groups"},"mark":{"type":"tick","color":"black","thickness":1.3,"size":68,"yOffset":20,"opacity":1},
   "encoding":{"x":{"field":"group","type":"nominal"},"y":{"datum":0,"type":"quantitative"}}}
 ]}
]
}
